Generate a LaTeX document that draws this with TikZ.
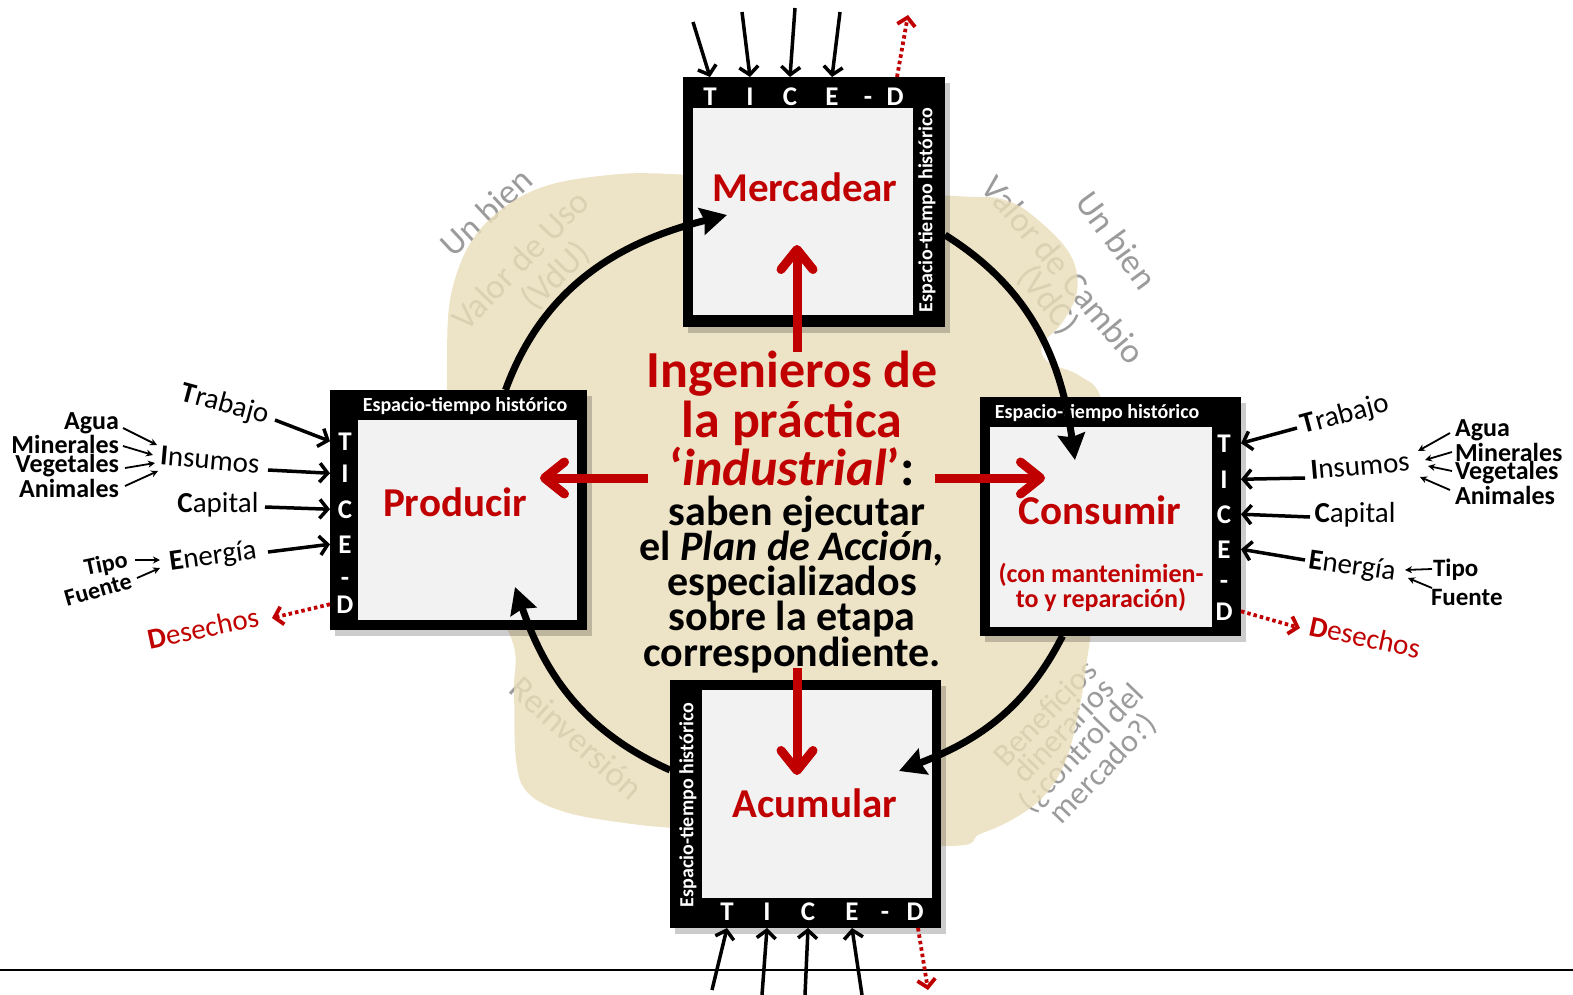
\documentclass[tikz,border=0pt]{standalone}
\usepackage{fontspec}
\setmainfont{Carlito}
\usetikzlibrary{arrows.meta,calc}
\definecolor{dred}{RGB}{192,0,0}
\definecolor{blobc}{RGB}{233,221,185}
\definecolor{boxin}{RGB}{242,242,242}
\definecolor{ggrey}{RGB}{155,155,155}
\newcommand{\fs}[1]{\fontsize{#1pt}{#1pt}\selectfont}
\newcommand{\fsl}[2]{\fontsize{#1pt}{#2pt}\selectfont}
\begin{document}
\begin{tikzpicture}[x=1pt,y=1pt,
  every node/.style={inner sep=0pt,outer sep=0pt},
  outerbox/.style={fill=black},
  innerbox/.style={fill=boxin},
  shad/.style={fill=black,opacity=0.2},
  letter/.style={text=white,font=\bfseries\fs{27},anchor=base},
  band/.style={text=white,font=\bfseries\fs{20}},
  title/.style={text=dred,font=\bfseries\fs{41}},
  inlab/.style={font=\fs{29}},
  sublab/.style={font=\bfseries\fs{26}},
  redtxt/.style={text=dred,font=\bfseries\fs{52},anchor=base},
  blktxt/.style={text=black,font=\bfseries\fs{42},anchor=base},
  gt/.style={text=ggrey,font=\fs{35}},
  inarr/.style={line width=3.5pt,-{Straight Barb[length=8pt,width=19pt]}},
  smarr/.style={line width=1.8pt,-{Stealth[length=7pt,width=7pt]}},
  waste/.style={draw=dred,line width=3.8pt,dash pattern=on 3.5pt off 3pt,-{Straight Barb[length=8pt,width=18pt]}},
  cyc/.style={line width=7pt,-{Stealth[length=26pt,width=27pt,inset=3pt]}},
  redarr/.style={draw=dred,line width=9pt,-{Straight Barb[length=20pt,width=32pt,round]}}
]
\useasboundingbox (0,0) rectangle (1573,-995);

% grey curved labels (under the translucent blob)
\node[gt,rotate=43] (g1) at (486,-212) {Un bien};
\node[gt,rotate=46] (g2) at (520,-260) {Valor de Uso};
\node[gt,rotate=45] (g3) at (556,-276) {(VdU)};
\node[gt,rotate=-54] (g4) at (1117,-240) {Un bien};
\node[gt,rotate=-50] (g5) at (1064,-270) {Valor de Cambio};
\node[gt,rotate=-52] (g6) at (1048,-300) {(VdC)};
\node[gt,rotate=46,align=center,font=\fsl{32}{25}] (g7) at (1075,-742) {Beneficios\\dinerarios\\(¿control del\\mercado?)};
\node[gt,rotate=-42] (g8) at (577,-738) {Reinversión};

% blob
\fill[blobc,opacity=0.82] plot[smooth cycle,tension=0.6] coordinates {
 (447,-360) (452,-290) (478,-232) (530,-192) (600,-176) (690,-175) (940,-195)
 (1005,-200) (1045,-226) (1072,-258) (1077,-292) (1062,-323) (1042,-345) (1048,-362)
 (1080,-376) (1102,-402) (1112,-500) (1090,-640) (1080,-705) (1066,-760) (1045,-795)
 (1015,-818) (980,-834) (940,-846) (700,-830) (625,-823) (565,-812) (528,-793)
 (516,-760) (514,-690) (512,-640) (470,-560) (450,-450)};

% baseline rule
\draw[line width=1.2pt] (0,-970) -- (1573,-970);

% boxes
\fill[shad] (688,-83) rectangle (950,-333);
\fill[shad] (335,-396) rectangle (592,-636);
\fill[shad] (985,-403) rectangle (1246,-642);
\fill[shad] (675,-686) rectangle (946,-934);

\node[outerbox,minimum width=262pt,minimum height=250pt] (merc) at (814,-202) {};
\node[innerbox,minimum width=220pt,minimum height=207pt] (mercin) at (803,-211.5) {};
\node[outerbox,minimum width=257pt,minimum height=240pt] (prod) at (458.5,-510) {};
\node[innerbox,minimum width=219pt,minimum height=200pt] (prodin) at (467.5,-520) {};
\node[outerbox,minimum width=261pt,minimum height=239pt] (cons) at (1110.5,-516.5) {};
\node[innerbox,minimum width=222pt,minimum height=200pt] (consin) at (1101,-527) {};
\node[outerbox,minimum width=271pt,minimum height=248pt] (acum) at (805.5,-804) {};
\node[innerbox,minimum width=230pt,minimum height=208pt] (acumin) at (817,-794) {};

% band texts
\node[band] (bprod) at (465,-406) {Espacio-tiempo histórico};
\node[band] (bcons) at (1097,-413) {Espacio-tiempo histórico};
\node[band,rotate=90] (bmerc) at (927,-210) {Espacio-tiempo histórico};
\node[band,rotate=90] (bacum) at (688,-805) {Espacio-tiempo histórico};

% TICE-D letters
\node[letter] (mT) at (710,-106) {T};
\node[letter] (mI) at (750,-106) {I};
\node[letter] (mC) at (790,-106) {C};
\node[letter] (mE) at (832,-106) {E};
\node[letter] (mH) at (868,-106) {-};
\node[letter] (mD) at (895,-106) {D};
\node[letter] (aT) at (727,-920) {T};
\node[letter] (aI) at (767,-920) {I};
\node[letter] (aC) at (808,-920) {C};
\node[letter] (aE) at (852,-920) {E};
\node[letter] (aH) at (885,-920) {-};
\node[letter] (aD) at (915,-920) {D};
\node[letter] (pT) at (345,-450) {T};
\node[letter] (pI) at (345,-482) {I};
\node[letter] (pC) at (345,-518) {C};
\node[letter] (pE) at (345,-553) {E};
\node[letter] (pH) at (345,-586) {-};
\node[letter] (pD) at (345,-613) {D};
\node[letter] (cT) at (1224,-452) {T};
\node[letter] (cI) at (1224,-488) {I};
\node[letter] (cC) at (1224,-523) {C};
\node[letter] (cE) at (1224,-558) {E};
\node[letter] (cH) at (1224,-589) {-};
\node[letter] (cD) at (1224,-620) {D};

% box titles
\node[title] (tmerc) at (805,-187) {Mercadear};
\node[title] (tprod) at (455,-502) {Producir};
\node[title] (tcons) at (1100,-510) {Consumir};
\node[text=dred,font=\bfseries\fsl{26}{25},align=center] (tcons2) at (1101,-587) {(con mantenimien-\\to y reparación)};
\node[title] (tacum) at (815,-803) {Acumular};

% cycle arrows
\draw[cyc] ([xshift=47pt]prod.north) to[out=70,in=194] (727,-215);
\draw[cyc] ([yshift=-33pt]merc.east) to[out=-32,in=98] (1075,-460);
\draw[cyc] ([xshift=-48pt]cons.south) to[out=-117,in=21] (899,-771);
\draw[cyc] ([yshift=34pt]acum.west) to[out=156,in=-71] (515,-587);

% centre text
\node[redtxt] (t1) at (792,-387) {Ingenieros de};
\node[redtxt] (t2) at (792,-437) {la práctica};
\node[redtxt] (t3) at (792,-485) {‘\textit{industrial}’\textcolor{black}{:}};
\node[blktxt] (t4) at (797,-525) {saben ejecutar};
\node[blktxt] (t5) at (792,-560) {el \textit{Plan de Acción,}};
\node[blktxt] (t6) at (792,-595) {especializados};
\node[blktxt] (t7) at (792,-630) {sobre la etapa};
\node[blktxt] (t8) at (792,-666) {correspondiente.};

% red arrows
\draw[redarr] (797,-352) -- (797,-245);
\draw[redarr] (648,-478) -- (540,-478);
\draw[redarr] (935,-478) -- (1045,-478);
\draw[redarr] (797,-668) -- (797,-775);

% top inputs
\draw[inarr] (693,-22) -- (mT |- merc.north);
\draw[inarr] (742,-12) -- (mI |- merc.north);
\draw[inarr] (795,-8) -- (mC |- merc.north);
\draw[inarr] (840,-12) -- (mE |- merc.north);
\draw[waste] ([xshift=2pt]mD |- merc.north) -- (908,-15);
% bottom inputs
\draw[inarr] (712,-990) -- (aT |- acum.south);
\draw[inarr] (762,-995) -- (aI |- acum.south);
\draw[inarr] (805,-995) -- (aC |- acum.south);
\draw[inarr] (862,-995) -- (aE |- acum.south);
\draw[waste] ([xshift=3pt]aD |- acum.south) -- (928,-990);

% left inputs (Producir)
\node[inlab,rotate=-15] (lTr) at (225,-405) {\textbf{T}rabajo};
\node[inlab,rotate=-5] (lIn) at (210,-460) {\textbf{I}nsumos};
\node[inlab] (lCa) at (218,-505) {\textbf{C}apital};
\node[inlab,rotate=8] (lEn) at (213,-557) {\textbf{E}nergía};
\node[sublab,anchor=east] (lAg) at (119,-423) {Agua};
\node[sublab,anchor=east] (lMi) at (119,-444) {Minerales};
\node[sublab,anchor=east] (lVe) at (119,-466) {Vegetales};
\node[sublab,anchor=east] (lAn) at (119,-488) {Animales};
\node[font=\bfseries\fs{24},rotate=12] (lTi) at (106,-565) {Tipo};
\node[font=\bfseries\fs{24},rotate=16] (lFu) at (98,-590) {Fuente};
\node[text=dred,font=\fs{29},rotate=12] (lDe) at (203,-628) {\textbf{D}esechos};
\draw[inarr] (275,-420) -- (prod.west |- pT);
\draw[inarr] (268,-470) -- (prod.west |- pI);
\draw[inarr] (265,-507) -- (prod.west |- pC);
\draw[inarr] (268,-552) -- (prod.west |- pE);
\draw[smarr] (123,-428) -- (157,-445);
\draw[smarr] (123,-446) -- (153,-455);
\draw[smarr] (125,-468) -- (155,-463);
\draw[smarr] (125,-486) -- (158,-471);
\draw[smarr] (135,-560) -- (160,-560);
\draw[smarr] (137,-578) -- (160,-568);
\draw[waste] (prod.west |- pD) -- (272,-618);

% right inputs (Consumir)
\node[inlab,rotate=15] (rTr) at (1345,-415) {\textbf{T}rabajo};
\node[inlab,rotate=5] (rIn) at (1360,-466) {\textbf{I}nsumos};
\node[inlab] (rCa) at (1355,-515) {\textbf{C}apital};
\node[inlab,rotate=-8] (rEn) at (1352,-567) {\textbf{E}nergía};
\node[sublab,anchor=west] (rAg) at (1455,-430) {Agua};
\node[sublab,anchor=west] (rMi) at (1455,-452) {Minerales};
\node[sublab,anchor=west] (rVe) at (1455,-473) {Vegetales};
\node[sublab,anchor=west] (rAn) at (1455,-495) {Animales};
\node[font=\bfseries\fs{25},anchor=west] (rTi) at (1433,-570) {Tipo};
\node[font=\bfseries\fs{25},anchor=west] (rFu) at (1431,-597) {Fuente};
\node[text=dred,font=\fs{29},rotate=-12] (rDe) at (1365,-637) {\textbf{D}esechos};
\draw[inarr] (1297,-428) -- (cons.east |- cT);
\draw[inarr] (1305,-478) -- (cons.east |- cI);
\draw[inarr] (1310,-517) -- (cons.east |- cC);
\draw[inarr] (1305,-560) -- (cons.east |- cE);
\draw[smarr] (1450,-433) -- (1418,-451);
\draw[smarr] (1452,-452) -- (1425,-460);
\draw[smarr] (1452,-471) -- (1428,-466);
\draw[smarr] (1450,-490) -- (1420,-477);
\draw[smarr] (1432,-569) -- (1405,-570);
\draw[smarr] (1432,-588) -- (1408,-578);
\draw[waste] (cons.east |- cD) -- (1300,-628);
\end{tikzpicture}
\end{document}
